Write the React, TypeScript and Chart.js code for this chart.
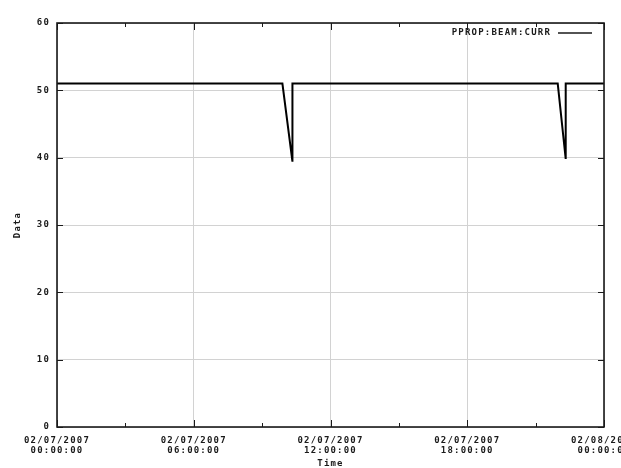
import React, { useEffect, useRef } from 'react';
import { Chart, registerables } from 'chart.js';

Chart.register(...registerables);

const seriesLabel = 'PPROP:BEAM:CURR';
const timeHours = [0, 9.89, 10.33, 10.33, 21.97, 22.32, 22.32, 24];
const beamValues = [51, 51, 39.4, 51, 51, 39.8, 51, 51];
const xTickHours = [0, 6, 12, 18, 24];
const xTickDates = ['02/07/2007', '02/07/2007', '02/07/2007', '02/07/2007', '02/08/2007'];
const xTickTimes = ['00:00:00', '06:00:00', '12:00:00', '18:00:00', '00:00:00'];
const yTicks = [0, 10, 20, 30, 40, 50, 60];
const xTitle = 'Time';
const yTitle = 'Data';

const FAMILY = "'DejaVu Sans Mono', monospace";
const TEXT = '#1a1a1a';
const GRID = '#d2d2d2';
const SPACING = '1.2px';

const framePlugin = {
  id: 'frame',
  beforeUpdate(chart: any) {
    chart.ctx.letterSpacing = SPACING;
  },
  beforeDraw(chart: any) {
    const ctx = chart.ctx;
    ctx.letterSpacing = SPACING;
    ctx.save();
    ctx.fillStyle = '#ffffff';
    ctx.fillRect(0, 0, chart.width, chart.height);
    ctx.restore();
  },
  afterDatasetsDraw(chart: any) {
    const { ctx, chartArea: a, scales } = chart;
    ctx.save();
    ctx.strokeStyle = TEXT;
    ctx.lineWidth = 1;
    const xs = scales.x;
    const ys = scales.y;
    ctx.beginPath();
    xTickHours.forEach((h, i) => {
      const px = Math.round(xs.getPixelForValue(h)) + 0.5;
      ctx.moveTo(px, a.bottom);
      ctx.lineTo(px, a.bottom - 7);
      ctx.moveTo(px, a.top);
      ctx.lineTo(px, a.top + 7);
      if (i < xTickHours.length - 1) {
        const mx = Math.round(xs.getPixelForValue((h + xTickHours[i + 1]) / 2)) + 0.5;
        ctx.moveTo(mx, a.bottom);
        ctx.lineTo(mx, a.bottom - 4);
        ctx.moveTo(mx, a.top);
        ctx.lineTo(mx, a.top + 4);
      }
    });
    yTicks.forEach((v) => {
      const py = Math.round(ys.getPixelForValue(v)) + 0.5;
      ctx.moveTo(a.left, py);
      ctx.lineTo(a.left + 6, py);
      ctx.moveTo(a.right, py);
      ctx.lineTo(a.right - 6, py);
    });
    ctx.stroke();
    ctx.lineWidth = 1.6;
    ctx.strokeRect(a.left, a.top, a.right - a.left, a.bottom - a.top);
    // legend
    const ly = a.top + 10;
    ctx.letterSpacing = SPACING;
    ctx.font = `bold 9px ${FAMILY}`;
    ctx.fillStyle = TEXT;
    ctx.textAlign = 'right';
    ctx.textBaseline = 'middle';
    ctx.fillText(chart.data.datasets[0].label, a.right - 53, ly);
    ctx.beginPath();
    ctx.lineWidth = 1.5;
    ctx.moveTo(a.right - 46, ly);
    ctx.lineTo(a.right - 12, ly);
    ctx.stroke();
    ctx.restore();
  },
};

export default function App() {
  const ref = useRef<HTMLCanvasElement>(null);
  useEffect(() => {
    if (!ref.current) return;
    const font = { family: FAMILY, size: 9, weight: 'bold' as const, lineHeight: 1.15 };
    const chart = new Chart(ref.current, {
      type: 'line',
      data: {
        datasets: [
          {
            label: seriesLabel,
            data: timeHours.map((h, i) => ({ x: h, y: beamValues[i] })),
            borderColor: '#000000',
            borderWidth: 2,
            pointRadius: 0,
            tension: 0,
            fill: false,
          },
        ],
      },
      options: {
        animation: false,
        responsive: false,
        devicePixelRatio: 1,
        layout: { padding: { top: 23, right: 17, left: 0, bottom: 0 } },
        plugins: { legend: { display: false }, tooltip: { enabled: false } },
        scales: {
          x: {
            type: 'linear',
            min: 0,
            max: 24,
            ticks: {
              stepSize: 6,
              autoSkip: false,
              maxRotation: 0,
              padding: 8.5,
              color: TEXT,
              font,
              callback: (value: any) => {
                const i = xTickHours.indexOf(Number(value));
                return i >= 0 ? [xTickDates[i], xTickTimes[i]] : '';
              },
            },
            grid: { color: GRID, lineWidth: 1, drawTicks: false },
            border: { display: false },
            title: {
              display: true,
              text: xTitle,
              color: TEXT,
              font: { family: FAMILY, size: 9, weight: 'bold', lineHeight: 1 },
              padding: { top: 0, bottom: 0 },
            },
            afterFit: (s: any) => {
              s.height = 41;
              s.paddingLeft = 0;
              s.paddingRight = 0;
            },
          },
          y: {
            type: 'linear',
            min: 0,
            max: 60,
            ticks: {
              stepSize: 10,
              padding: 7,
              color: TEXT,
              font,
            },
            grid: { color: GRID, lineWidth: 1, drawTicks: false },
            border: { display: false },
            title: {
              display: true,
              text: yTitle,
              color: TEXT,
              font: { family: FAMILY, size: 9, weight: 'bold', lineHeight: 1 },
              padding: { top: 13, bottom: 0 },
            },
            afterFit: (s: any) => {
              s.width = 57;
              s.paddingTop = 0;
              s.paddingBottom = 0;
            },
          },
        },
      },
      plugins: [framePlugin],
    });
    return () => chart.destroy();
  }, []);
  return (
    <div style={{ position: 'fixed', left: 0, top: 0, width: 621, height: 468, background: '#fff' }}>
      <canvas ref={ref} width={621} height={468} style={{ display: 'block' }} />
    </div>
  );
}
